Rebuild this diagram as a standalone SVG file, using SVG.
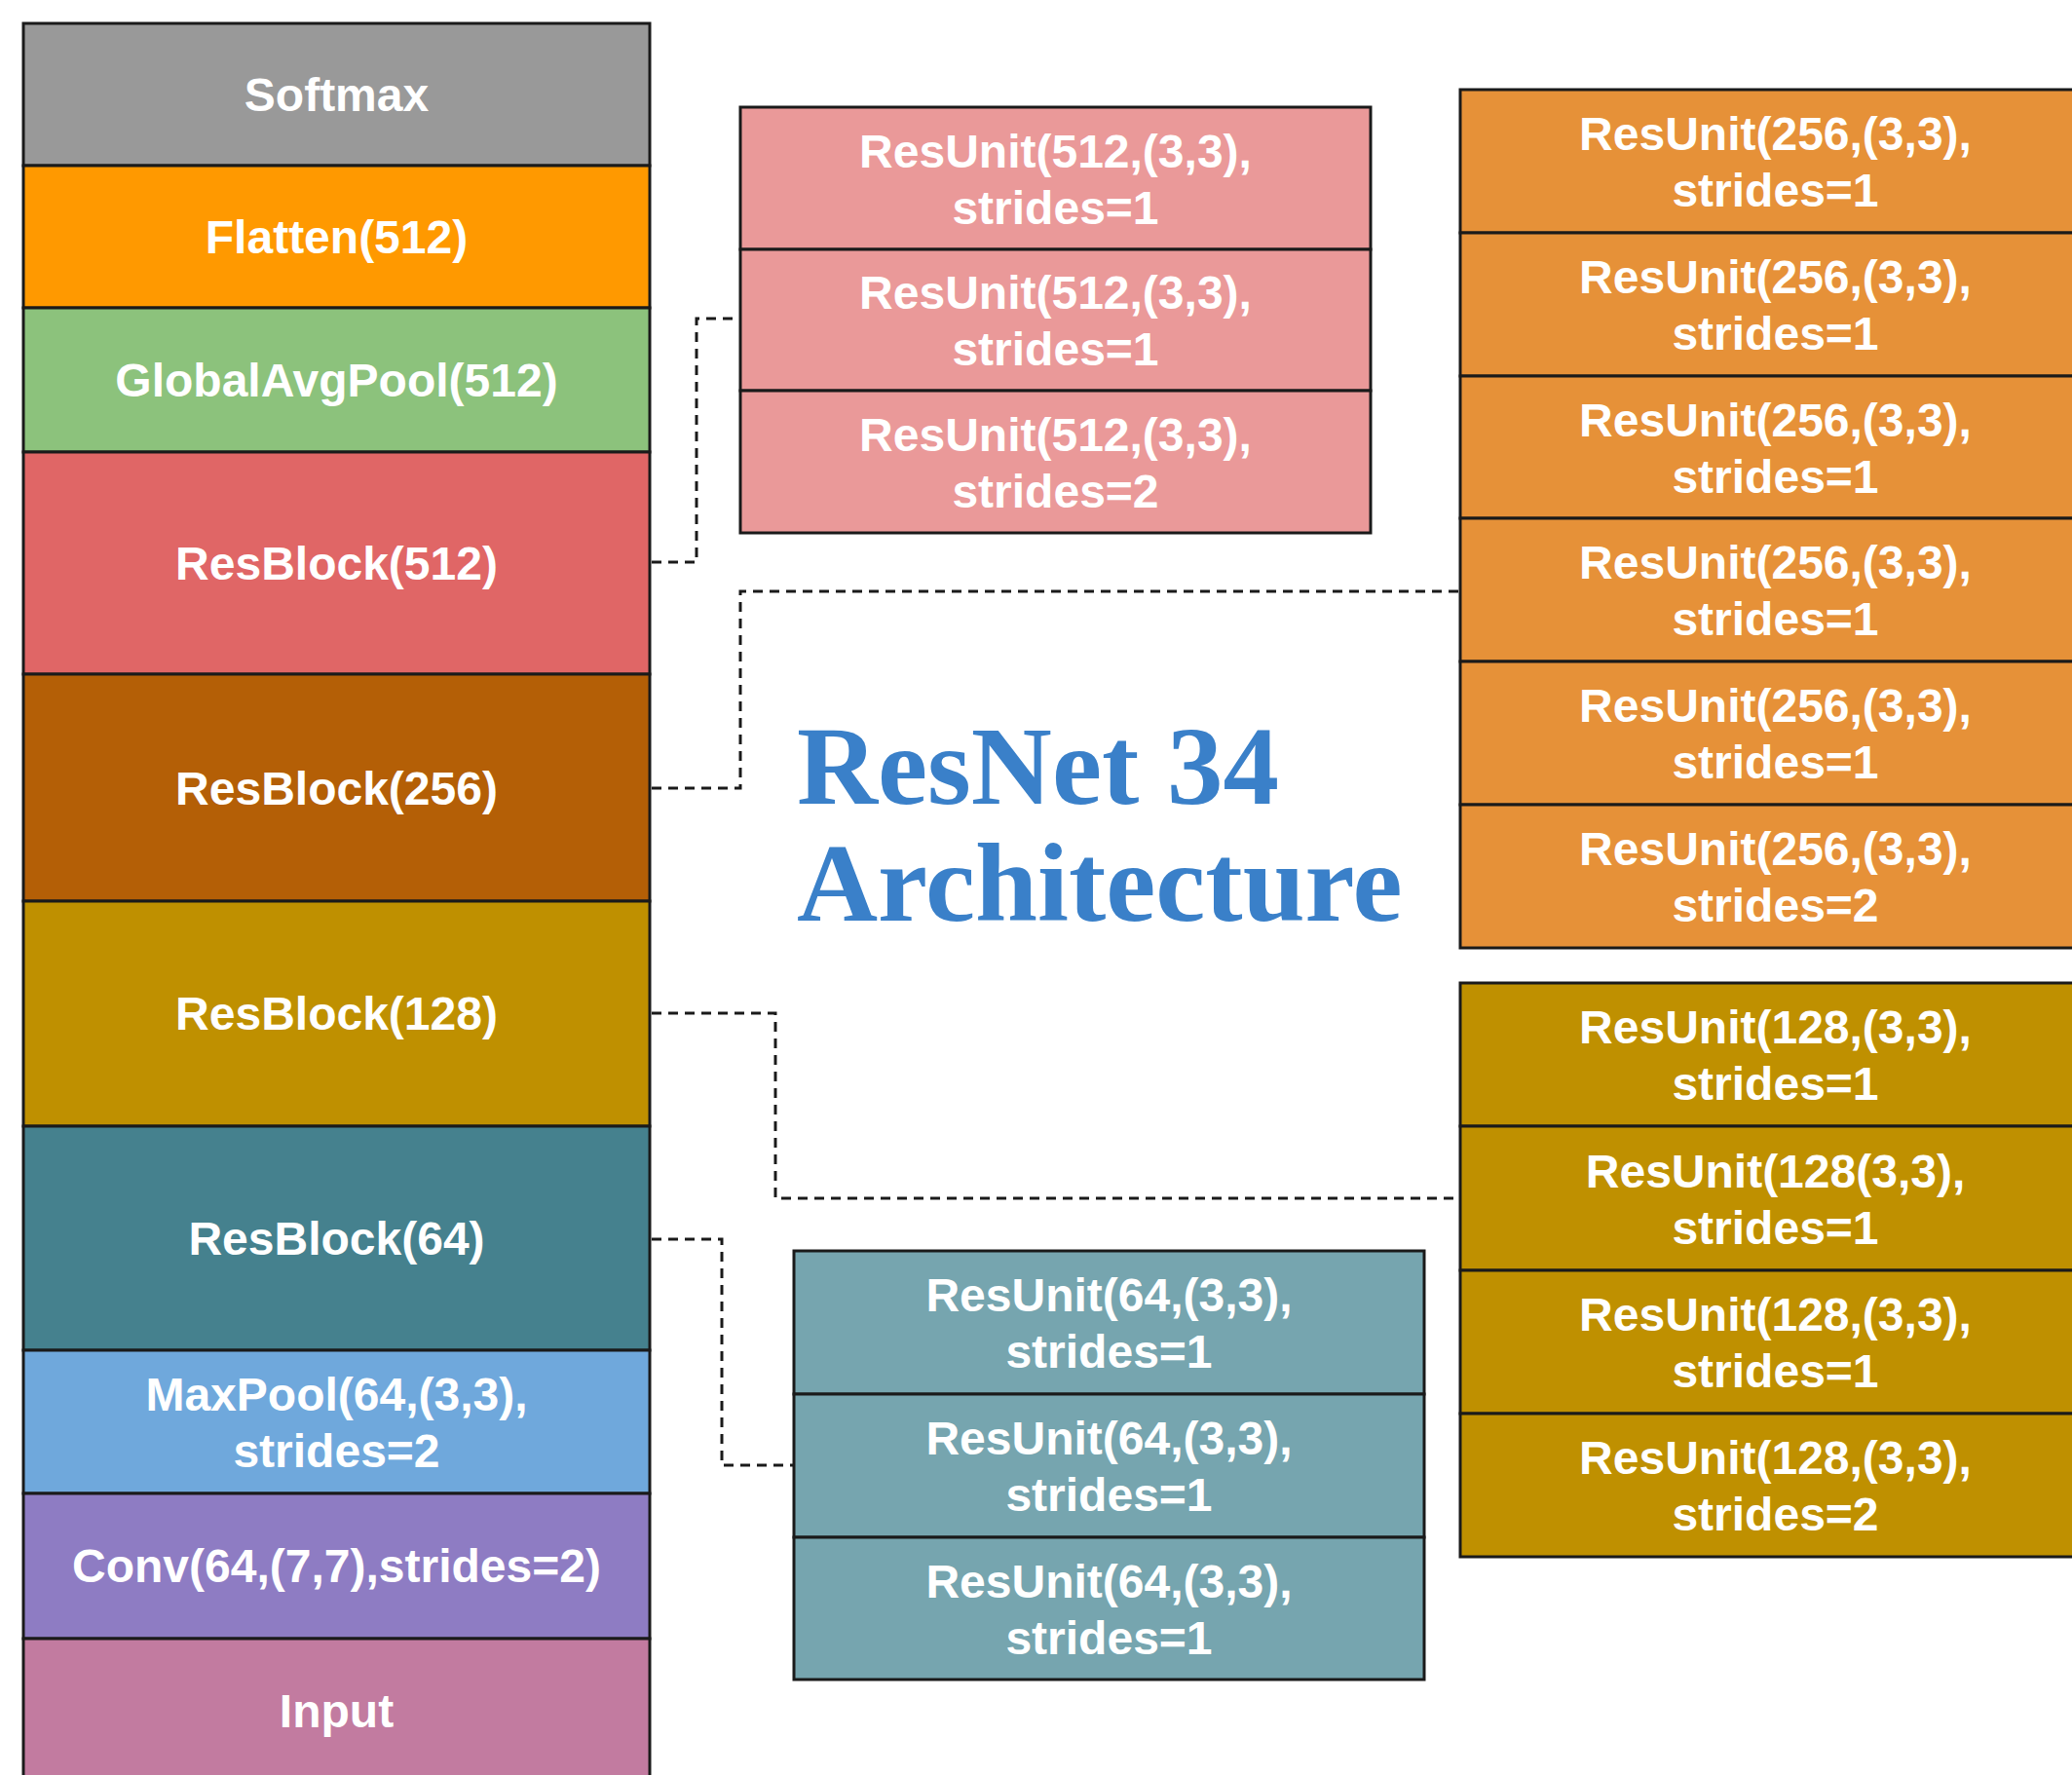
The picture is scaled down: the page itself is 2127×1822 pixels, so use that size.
<svg xmlns="http://www.w3.org/2000/svg" width="2127" height="1822" viewBox="0 0 2127 1822">
<style>
.box{stroke:#1a1a1a;stroke-width:3}
.lbl{font-family:"Liberation Sans",Arial,sans-serif;font-weight:bold;font-size:48px;fill:#ffffff;text-anchor:middle}
.conn{fill:none;stroke:#1a1a1a;stroke-width:3;stroke-dasharray:10 7}
.title{font-family:"Liberation Serif","Times New Roman",serif;font-weight:bold;font-size:115px;fill:#3a80c9}
</style>
<rect width="2127" height="1822" fill="#ffffff"/>

<g id="main-stack">
  <g id="softmax"><rect class="box" x="24" y="24" width="643" height="146" fill="#999999"/><text class="lbl" x="345.5" y="114">Softmax</text></g>
  <g id="flatten"><rect class="box" x="24" y="170" width="643" height="146" fill="#ff9900"/><text class="lbl" x="345.5" y="260">Flatten(512)</text></g>
  <g id="gap"><rect class="box" x="24" y="316" width="643" height="148" fill="#8cc27c"/><text class="lbl" x="345.5" y="407">GlobalAvgPool(512)</text></g>
  <g id="resblock512"><rect class="box" x="24" y="464" width="643" height="228" fill="#e06666"/><text class="lbl" x="345.5" y="595">ResBlock(512)</text></g>
  <g id="resblock256"><rect class="box" x="24" y="692" width="643" height="233" fill="#b45f06"/><text class="lbl" x="345.5" y="826">ResBlock(256)</text></g>
  <g id="resblock128"><rect class="box" x="24" y="925" width="643" height="231" fill="#bf9000"/><text class="lbl" x="345.5" y="1057">ResBlock(128)</text></g>
  <g id="resblock64"><rect class="box" x="24" y="1156" width="643" height="230" fill="#45818e"/><text class="lbl" x="345.5" y="1288">ResBlock(64)</text></g>
  <g id="maxpool"><rect class="box" x="24" y="1386" width="643" height="147" fill="#6fa8dc"/><text class="lbl" x="345.5" y="1448">MaxPool(64,(3,3),</text><text class="lbl" x="345.5" y="1506">strides=2</text></g>
  <g id="conv"><rect class="box" x="24" y="1533" width="643" height="149" fill="#8e7cc3"/><text class="lbl" x="345.5" y="1624">Conv(64,(7,7),strides=2)</text></g>
  <g id="input"><rect class="box" x="24" y="1682" width="643" height="160" fill="#c27ba0"/><text class="lbl" x="345.5" y="1773">Input</text></g>
</g>

<g id="units512">
  <g id="u512-1"><rect class="box" x="760" y="110" width="647" height="146" fill="#ea9999"/><text class="lbl" x="1083.5" y="171.5">ResUnit(512,(3,3),</text><text class="lbl" x="1083.5" y="229.5">strides=1</text></g>
  <g id="u512-2"><rect class="box" x="760" y="256" width="647" height="145" fill="#ea9999"/><text class="lbl" x="1083.5" y="317">ResUnit(512,(3,3),</text><text class="lbl" x="1083.5" y="375">strides=1</text></g>
  <g id="u512-3"><rect class="box" x="760" y="401" width="647" height="146" fill="#ea9999"/><text class="lbl" x="1083.5" y="462.5">ResUnit(512,(3,3),</text><text class="lbl" x="1083.5" y="520.5">strides=2</text></g>
</g>

<g id="units256">
  <g id="u256-1"><rect class="box" x="1499" y="92" width="647" height="147" fill="#e69138"/><text class="lbl" x="1822.5" y="154">ResUnit(256,(3,3),</text><text class="lbl" x="1822.5" y="212">strides=1</text></g>
  <g id="u256-2"><rect class="box" x="1499" y="239" width="647" height="147" fill="#e69138"/><text class="lbl" x="1822.5" y="301">ResUnit(256,(3,3),</text><text class="lbl" x="1822.5" y="359">strides=1</text></g>
  <g id="u256-3"><rect class="box" x="1499" y="386" width="647" height="146" fill="#e69138"/><text class="lbl" x="1822.5" y="447.5">ResUnit(256,(3,3),</text><text class="lbl" x="1822.5" y="505.5">strides=1</text></g>
  <g id="u256-4"><rect class="box" x="1499" y="532" width="647" height="147" fill="#e69138"/><text class="lbl" x="1822.5" y="594">ResUnit(256,(3,3),</text><text class="lbl" x="1822.5" y="652">strides=1</text></g>
  <g id="u256-5"><rect class="box" x="1499" y="679" width="647" height="147" fill="#e69138"/><text class="lbl" x="1822.5" y="741">ResUnit(256,(3,3),</text><text class="lbl" x="1822.5" y="799">strides=1</text></g>
  <g id="u256-6"><rect class="box" x="1499" y="826" width="647" height="147" fill="#e69138"/><text class="lbl" x="1822.5" y="888">ResUnit(256,(3,3),</text><text class="lbl" x="1822.5" y="946">strides=2</text></g>
</g>

<g id="units128">
  <g id="u128-1"><rect class="box" x="1499" y="1009" width="647" height="147" fill="#bf9000"/><text class="lbl" x="1822.5" y="1071">ResUnit(128,(3,3),</text><text class="lbl" x="1822.5" y="1129">strides=1</text></g>
  <g id="u128-2"><rect class="box" x="1499" y="1156" width="647" height="148" fill="#bf9000"/><text class="lbl" x="1822.5" y="1218.5">ResUnit(128(3,3),</text><text class="lbl" x="1822.5" y="1276.5">strides=1</text></g>
  <g id="u128-3"><rect class="box" x="1499" y="1304" width="647" height="147" fill="#bf9000"/><text class="lbl" x="1822.5" y="1366">ResUnit(128,(3,3),</text><text class="lbl" x="1822.5" y="1424">strides=1</text></g>
  <g id="u128-4"><rect class="box" x="1499" y="1451" width="647" height="147" fill="#bf9000"/><text class="lbl" x="1822.5" y="1513">ResUnit(128,(3,3),</text><text class="lbl" x="1822.5" y="1571">strides=2</text></g>
</g>

<g id="units64">
  <g id="u64-1"><rect class="box" x="815" y="1284" width="647" height="147" fill="#76a5af"/><text class="lbl" x="1138.5" y="1346">ResUnit(64,(3,3),</text><text class="lbl" x="1138.5" y="1404">strides=1</text></g>
  <g id="u64-2"><rect class="box" x="815" y="1431" width="647" height="147" fill="#76a5af"/><text class="lbl" x="1138.5" y="1493">ResUnit(64,(3,3),</text><text class="lbl" x="1138.5" y="1551">strides=1</text></g>
  <g id="u64-3"><rect class="box" x="815" y="1578" width="647" height="146" fill="#76a5af"/><text class="lbl" x="1138.5" y="1639.5">ResUnit(64,(3,3),</text><text class="lbl" x="1138.5" y="1697.5">strides=1</text></g>
</g>

<g id="connectors">
  <path class="conn" d="M669 577 H715 V327 H760"/>
  <path class="conn" d="M669 809 H760 V607 H1499"/>
  <path class="conn" d="M669 1040 H796 V1230 H1499"/>
  <path class="conn" d="M669 1272 H741 V1504 H815"/>
</g>

<g id="title">
  <text class="title" x="818" y="825">ResNet 34</text>
  <text class="title" x="818" y="945">Architecture</text>
</g>
</svg>
